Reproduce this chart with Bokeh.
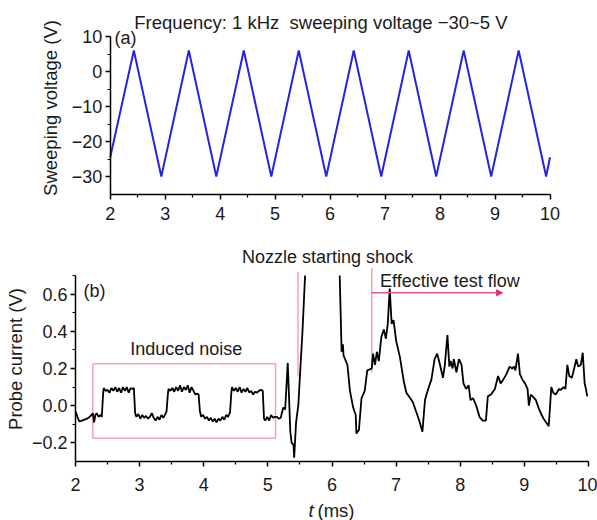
import math
from bokeh.plotting import figure
from bokeh.layouts import column
from bokeh.models import (FixedTicker, CustomJSTickFormatter, Label, Arrow, NormalHead)
from bokeh.embed import file_html
from bokeh.resources import INLINE

NAN = float("nan")

# ---------------- data ----------------
# (a) sweeping voltage, triangle wave vertices
sweep_t = [2.00, 2.43, 2.93, 3.43, 3.93, 4.43, 4.93, 5.43, 5.93, 6.43, 6.93,
           7.43, 7.93, 8.43, 8.93, 9.43, 9.93, 10.00]
sweep_v = [-24.5, 6, -30, 6, -30, 6, -30, 6, -30, 6, -30,
           6, -30, 6, -30, 6, -30, -24.5]

# (b) probe current trace (NaN = trace leaves the plotted range above 0.7 V)
probe_t = [2.00, 2.03, 2.06, 2.10, 2.14, 2.18, 2.22, 2.25, 2.27, 2.29, 2.31, 2.33, 2.36, 2.39, 2.41,
           2.43, 2.44, 2.47, 2.50, 2.53, 2.56, 2.59, 2.62, 2.65, 2.68, 2.71, 2.74, 2.77, 2.80, 2.83,
           2.86, 2.89, 2.91, 2.93, 2.95, 2.98, 3.01, 3.04, 3.07, 3.10, 3.13, 3.16, 3.19, 3.22, 3.25,
           3.28, 3.31, 3.34, 3.37, 3.40, 3.42, 3.44, 3.45, 3.48, 3.51, 3.54, 3.57, 3.60, 3.63, 3.66,
           3.69, 3.72, 3.75, 3.78, 3.81, 3.84, 3.87, 3.90, 3.92, 3.94, 3.96, 3.99, 4.02, 4.05, 4.08,
           4.11, 4.14, 4.17, 4.20, 4.23, 4.26, 4.29, 4.32, 4.35, 4.38, 4.41, 4.43, 4.44, 4.47, 4.50,
           4.53, 4.56, 4.59, 4.62, 4.65, 4.68, 4.71, 4.74, 4.77, 4.80, 4.83, 4.86, 4.89, 4.92, 4.94,
           4.96, 4.99, 5.02, 5.05, 5.08, 5.11, 5.14, 5.17, 5.20, 5.24, 5.27, 5.31, 5.35, 5.37, 5.40,
           5.41, 5.44, 5.475, 5.51, 5.54, 5.58, NAN, 6.12, 6.15, 6.17, 6.18, 6.24, 6.28, 6.33,
           6.37, 6.38, 6.42, 6.46, 6.51, 6.55, 6.62, 6.64, 6.67, 6.70, 6.73, 6.77, 6.81, 6.84, 6.87,
           6.90, 6.93, 6.96, 7.00, 7.06, 7.12, 7.16, 7.22, 7.26, 7.31, 7.36, 7.41, 7.45, 7.50, 7.55,
           7.60, 7.64, 7.67, 7.73, 7.76, 7.80, 7.83, 7.85, 7.88, 7.90, 7.94, 7.98, 8.02, 8.05, 8.09,
           8.13, 8.16, 8.20, 8.25, 8.30, 8.35, 8.40, 8.43, 8.48, 8.54, 8.59, 8.63, 8.67, 8.72, 8.77,
           8.81, 8.84, 8.86, 8.90, 8.93, 8.97, 9.01, 9.05, 9.07, 9.10, 9.13, 9.18, 9.23, 9.27, 9.30,
           9.34, 9.38, 9.42, 9.45, 9.49, 9.54, 9.57, 9.61, 9.64, 9.67, 9.70, 9.74, 9.77, 9.81, 9.84,
           9.88, 9.91, 9.94, 9.96, 9.98]
probe_i = [-0.03, -0.06, -0.085, -0.08, -0.075, -0.07, -0.06, -0.05, -0.04, -0.09, -0.05, -0.04, -0.06, -0.05, -0.06,
           0.06, 0.095, 0.08, 0.085, 0.07, 0.095, 0.08, 0.10, 0.075, 0.095, 0.07, 0.10, 0.08, 0.10, 0.07,
           0.095, 0.09, 0.095, -0.04, -0.06, -0.045, -0.07, -0.05, -0.065, -0.055, -0.07, -0.06, -0.04, -0.065, -0.08,
           -0.06, -0.075, -0.05, -0.065, -0.045, -0.03, 0.06, 0.09, 0.08, 0.095, 0.075, 0.10, 0.08, 0.11, 0.075,
           0.10, 0.085, 0.11, 0.07, 0.10, 0.08, 0.06, 0.065, 0.06, -0.03, -0.06, -0.05, -0.07, -0.06, -0.08,
           -0.065, -0.085, -0.07, -0.09, -0.07, -0.08, -0.06, -0.075, -0.05, -0.06, -0.035, 0.07, 0.10, 0.08, 0.095,
           0.075, 0.10, 0.07, 0.09, 0.075, 0.095, 0.07, 0.08, 0.06, 0.075, 0.07, 0.08, 0.085, 0.08, -0.07,
           -0.08, -0.06, -0.08, -0.05, -0.065, -0.06, -0.06, -0.07, -0.065, -0.01, -0.02, 0.23, -0.14, -0.20, -0.21,
           -0.28, -0.09, 0.005, 0.22, 0.40, 0.70, NAN, 0.70, 0.29, 0.33, 0.27, 0.22, 0.08, -0.01,
           -0.05, -0.15, -0.13, 0.04, 0.08, 0.19, 0.20, 0.28, 0.22, 0.29, 0.24, 0.37, 0.41, 0.36, 0.44,
           0.63, 0.44, 0.46, 0.35, 0.26, 0.13, 0.07, 0.04, 0.02, -0.03, -0.08, -0.14, 0.03, 0.09, 0.14,
           0.25, 0.28, 0.24, 0.15, 0.22, 0.38, 0.21, 0.24, 0.20, 0.25, 0.18, 0.25, 0.22, 0.12, 0.09,
           0.11, 0.03, 0.04, 0.00, -0.06, -0.08, -0.08, 0.05, 0.06, 0.09, 0.16, 0.12, 0.14, 0.17, 0.21,
           0.20, 0.21, 0.19, 0.28, 0.17, 0.14, 0.12, 0.09, 0.00, 0.06, 0.05, 0.03, -0.02, -0.05, -0.07,
           -0.09, -0.11, 0.10, 0.07, 0.06, 0.09, 0.085, 0.10, 0.09, 0.22, 0.16, 0.15, 0.19, 0.25, 0.21,
           0.22, 0.285, 0.12, 0.09, 0.05]

x_ticks = [2, 3, 4, 5, 6, 7, 8, 9, 10]
x_minor = [2.5, 3.5, 4.5, 5.5, 6.5, 7.5, 8.5, 9.5]
ya_ticks = [-30, -20, -10, 0, 10]
ya_minor = [-25, -15, -5, 5]
yb_ticks = [-0.2, 0.0, 0.2, 0.4, 0.6]
yb_minor = [-0.1, 0.1, 0.3, 0.5, 0.7]

# annotation geometry (data units)
noise_box_x = [2.27, 5.12, 5.12, 2.27, 2.27]
noise_box_y = [0.225, 0.225, -0.175, -0.175, 0.225]
nozzle_line_x = [5.47, 5.47]
nozzle_line_y = [0.72, 0.157]
flow_line_x = [6.62, 6.62]
flow_line_y = [0.742, 0.18]
flow_arrow = (6.62, 8.66, 0.607)

FONT = "Liberation Sans"
FS = "18px"
TXT = "#1a1a1a"
PINK = "#f4a3b7"
ARROW = "#ee5585"

W = 597
HA, HB = 232, 288


def lin_range(v0, p0, v1, p1, size, flip=False):
    b = (p1 - p0) / (v1 - v0)
    a = p0 - b * v0
    lo, hi = (0 - a) / b, (size - a) / b
    return (hi, lo) if flip else (lo, hi)


def style(p, x_loc, y_loc, yt, ym, ybounds, digits, x_standoff):
    p.outline_line_color = None
    p.grid.visible = False
    p.background_fill_color = "white"
    p.border_fill_color = "white"
    xa, ya = p.xaxis[0], p.yaxis[0]
    xa.fixed_location = x_loc
    ya.fixed_location = y_loc
    xa.bounds = (2, 10)
    ya.bounds = ybounds
    xa.ticker = FixedTicker(ticks=x_ticks, minor_ticks=x_minor)
    ya.ticker = FixedTicker(ticks=yt, minor_ticks=ym)
    ya.formatter = CustomJSTickFormatter(
        code="return (tick < -1e-9 ? '\\u2212' : '') + Math.abs(tick).toFixed(%d);" % digits)
    for ax in (xa, ya):
        ax.axis_line_color = "black"
        ax.axis_line_width = 1.5
        ax.major_tick_line_color = "black"
        ax.minor_tick_line_color = "black"
        ax.major_tick_line_width = 1.5
        ax.minor_tick_line_width = 1.2
        ax.major_tick_out = 5
        ax.major_tick_in = 0
        ax.minor_tick_out = 3
        ax.minor_tick_in = 0
        ax.major_label_text_font = FONT
        ax.major_label_text_font_size = FS
        ax.major_label_text_color = TXT
    xa.major_label_standoff = x_standoff
    ya.major_label_standoff = 3


def lab(p, x, y, text, align="left", baseline="middle", angle=0.0, style_="normal", size=FS):
    p.add_layout(Label(x=x, y=y, text=text, text_font=FONT, text_font_size=size,
                       text_font_style=style_, text_align=align, text_baseline=baseline,
                       angle=angle, text_color=TXT))


# ---------------- (a) ----------------
pa = figure(width=W, height=HA,
            x_range=lin_range(2, 109.7, 10, 549.5, W),
            y_range=lin_range(10, 36, -35, 193.5, HA, flip=True),
            output_backend="svg", toolbar_location=None, min_border=0)
style(pa, -35, 2, ya_ticks, ya_minor, (-35, 10), 0, 8)
pa.line(sweep_t, sweep_v, line_color="#2424e6", line_width=2)
lab(pa, 5.834, 14.0, "Frequency: 1 kHz\u00a0 sweeping voltage \u221230~5 V", align="center",
    baseline="alphabetic", size="18.5px")
lab(pa, 2.078, 9.43, "(a)")
lab(pa, 0.905, -10.43, "Sweeping voltage (V)", align="center", angle=math.pi / 2, size="18.5px")

# ---------------- (b) ----------------
pb = figure(width=W, height=HB,
            x_range=lin_range(2, 75, 10, 588, W),
            y_range=lin_range(0.7, 43, -0.3, 229, HB, flip=True),
            output_backend="svg", toolbar_location=None, min_border=0)
style(pb, -0.3, 2, yb_ticks, yb_minor, (-0.3, 0.7), 1, 11)

pb.line(noise_box_x, noise_box_y, line_color=PINK, line_width=1.5)
pb.line(nozzle_line_x, nozzle_line_y, line_color=PINK, line_width=1.5)
pb.line(flow_line_x, flow_line_y, line_color=PINK, line_width=1.5)
pb.add_layout(Arrow(x_start=flow_arrow[0], x_end=flow_arrow[1], y_start=flow_arrow[2], y_end=flow_arrow[2],
                    line_color=ARROW, line_width=1.5,
                    end=NormalHead(size=6, fill_color="#e8305f", line_color="#e8305f")))
pb.line(probe_t, probe_i, line_color="black", line_width=1.8)

lab(pb, 2.125, 0.619, "(b)")
lab(pb, 3.728, 0.305, "Induced noise", align="center")
lab(pb, 5.93, 0.80, "Nozzle starting shock", align="center", baseline="alphabetic")
lab(pb, 6.75, 0.668, "Effective test flow", baseline="alphabetic")
lab(pb, 1.064, 0.251, "Probe current (V)", align="center", angle=math.pi / 2, size="18.5px")
lab(pb, 5.633, -0.563, "t", style_="italic", size="18.5px")
lab(pb, 5.774, -0.563, "(ms)", size="18.5px")

layout = column(pa, pb, spacing=0)
with open("out.html", "w", encoding="utf-8") as f:
    f.write(file_html(layout, INLINE))
